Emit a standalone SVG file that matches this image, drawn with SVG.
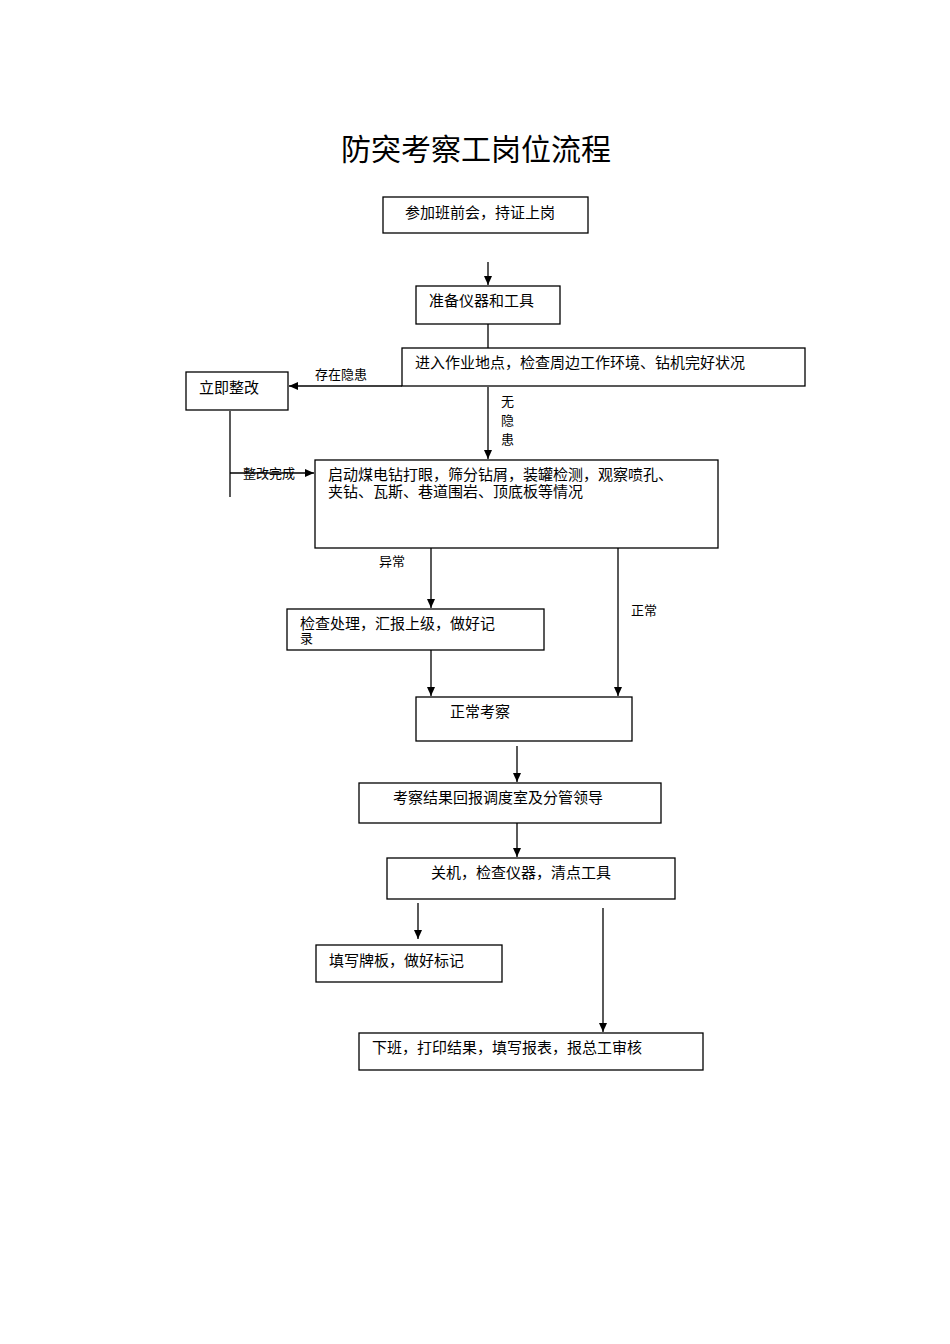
<svg xmlns="http://www.w3.org/2000/svg" width="950" height="1344" viewBox="0 0 950 1344">
<style>
rect{fill:#fff;stroke:#000;stroke-width:1.3}
line{stroke:#000;stroke-width:1.3}
text{font-family:"Liberation Serif","Noto Sans CJK SC",serif;font-size:15px;fill:#000}
.s{font-size:13px}
.t{font-size:30px}
</style>
<defs><marker id="a" markerWidth="10" markerHeight="10" refX="9" refY="5" orient="auto" markerUnits="userSpaceOnUse"><path d="M0,1 L9,5 L0,9 z" fill="#000"/></marker></defs>
<rect width="950" height="1344" style="fill:#fff;stroke:none"/>
<text class="t" x="476" y="160" text-anchor="middle">防突考察工岗位流程</text>
<g id="connectors">
<line x1="488" y1="262" x2="488" y2="285" marker-end="url(#a)"/>
<line x1="488" y1="324" x2="488" y2="348"/>
<line x1="402" y1="386" x2="289" y2="386" marker-end="url(#a)"/>
<text class="s" x="315" y="379">存在隐患</text>
<line x1="488" y1="387" x2="488" y2="459" marker-end="url(#a)"/>
<text class="s" x="501" y="406">无</text><text class="s" x="501" y="425">隐</text><text class="s" x="501" y="444">患</text>
<line x1="230" y1="411" x2="230" y2="497"/>
<line x1="230" y1="473" x2="314" y2="473" marker-end="url(#a)"/>
<text class="s" x="243" y="478">整改完成</text>
<line x1="431" y1="548" x2="431" y2="608" marker-end="url(#a)"/>
<text class="s" x="379" y="566">异常</text>
<line x1="618" y1="548" x2="618" y2="696" marker-end="url(#a)"/>
<text class="s" x="631" y="615">正常</text>
<line x1="431" y1="650" x2="431" y2="696" marker-end="url(#a)"/>
<line x1="517" y1="746" x2="517" y2="782" marker-end="url(#a)"/>
<line x1="517" y1="823" x2="517" y2="857" marker-end="url(#a)"/>
<line x1="418" y1="903" x2="418" y2="939" marker-end="url(#a)"/>
<line x1="603" y1="908" x2="603" y2="1032" marker-end="url(#a)"/>
</g>
<g id="n1"><rect x="383" y="197" width="205" height="36"/><text x="405" y="218">参加班前会，持证上岗</text></g>
<g id="n2"><rect x="416" y="286" width="144" height="38"/><text x="429" y="306">准备仪器和工具</text></g>
<g id="n3"><rect x="402" y="348" width="403" height="38"/><text x="415" y="368">进入作业地点，检查周边工作环境、钻机完好状况</text></g>
<g id="n4"><rect x="186" y="372" width="102" height="38"/><text x="199" y="393">立即整改</text></g>
<g id="n5"><rect x="315" y="460" width="403" height="88"/><text x="328" y="480">启动煤电钻打眼，筛分钻屑，装罐检测，观察喷孔、</text><text x="328" y="497">夹钻、瓦斯、巷道围岩、顶底板等情况</text></g>
<g id="n6"><rect x="287" y="609" width="257" height="41"/><text x="300" y="629">检查处理，汇报上级，做好记</text><text x="300" y="643" class="s">录</text></g>
<g id="n7"><rect x="416" y="697" width="216" height="44"/><text x="450" y="717">正常考察</text></g>
<g id="n8"><rect x="359" y="783" width="302" height="40"/><text x="393" y="803">考察结果回报调度室及分管领导</text></g>
<g id="n9"><rect x="387" y="858" width="288" height="41"/><text x="431" y="878">关机，检查仪器，清点工具</text></g>
<g id="n10"><rect x="316" y="945" width="186" height="37"/><text x="329" y="966">填写牌板，做好标记</text></g>
<g id="n11"><rect x="359" y="1033" width="344" height="37"/><text x="372" y="1053">下班，打印结果，填写报表，报总工审核</text></g>
</svg>
